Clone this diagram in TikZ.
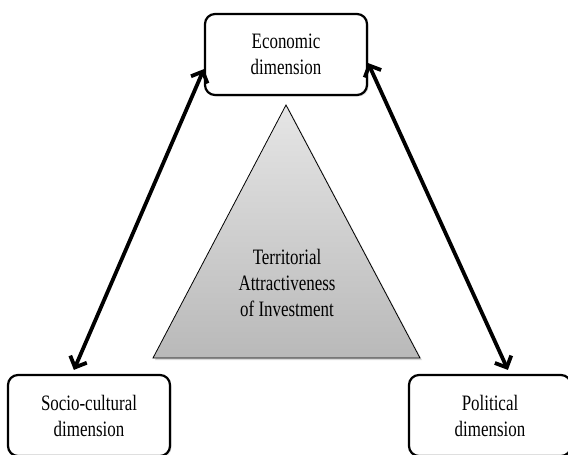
\documentclass[tikz,border=0pt]{standalone}
\usepackage{fontspec}
\setmainfont{Liberation Serif}[FakeStretch=0.77]
\usepackage{tikz}
\usetikzlibrary{arrows.meta,shadows}
\newcommand{\widthdim}{162pt}
\newcommand{\heightdim}{81pt}
\tikzset{
    common/.style={align=center, font=\fontsize{22}{26}\selectfont},
    dim/.style={common, draw, rectangle, rounded corners=10pt, line width=2.2pt, fill=white,
        minimum width=\widthdim, minimum height=\heightdim,
        drop shadow={shadow xshift=1.5pt, shadow yshift=-1.5pt, opacity=.25}},
    tri/.style={draw, line width=.8pt, top color=gray!20, bottom color=gray!55,
        drop shadow={shadow xshift=2pt, shadow yshift=-2pt, opacity=.3}},
    link/.style={line width=3.8pt, {Straight Barb[length=9pt,width=18pt]}-{Straight Barb[length=9pt,width=18pt]}}
}
\begin{document}
\begin{tikzpicture}[x=1pt, y=-1pt]
    \useasboundingbox (0,0) rectangle (568,455);

    % centre triangle
    \draw[tri] (286,105) -- (153,358) -- (420,358) -- cycle;
    \node[common] (centre) at (287,283) {Territorial\\Attractiveness\\of Investment};

    % the three dimensions
    \node[dim] (econ) at (286,54.5) {Economic\\dimension};
    \node[dim] (socio) at (89,415.5) {Socio-cultural\\dimension};
    \node[dim] (polit) at (490,415.5) {Political\\dimension};

    \draw[link] ([yshift=27pt]econ.south west) -- ([xshift=67pt, yshift=4pt]socio.north west);
    \draw[link] ([yshift=33pt]econ.south east) -- ([xshift=100pt, yshift=4pt]polit.north west);
\end{tikzpicture}
\end{document}
